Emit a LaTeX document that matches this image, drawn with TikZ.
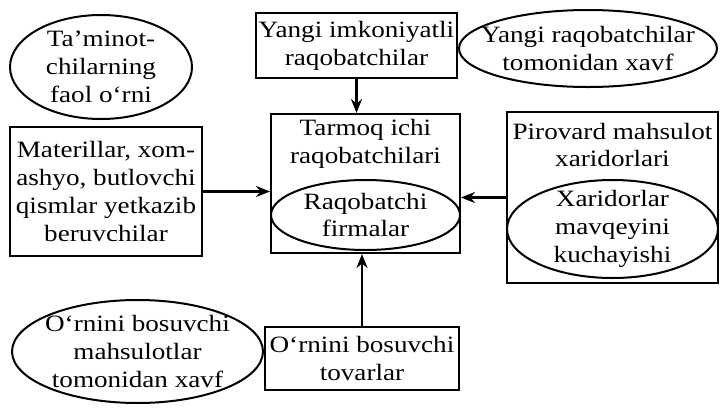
\documentclass[tikz,border=0pt]{standalone}
\usepackage{fontspec}
\setmainfont{Liberation Serif}[FakeStretch=1.16]
\usetikzlibrary{shapes.geometric,arrows.meta}

\begin{document}
\begin{tikzpicture}[x=0.5pt,y=-0.5pt,
  every node/.style={font=\fontsize{11.7}{13.9}\selectfont},
  quti/.style={draw,line width=1pt,inner sep=0pt,align=center},
  oval/.style={draw,ellipse,line width=1pt,inner sep=0pt},
  matn/.style={align=center,inner sep=0pt},
  strelka/.style={line width=1.2pt,-{Stealth[length=7pt,width=5.5pt]}}]
\useasboundingbox (0,0) rectangle (720,408);
% chap tomon
\node[oval,minimum width=91pt,minimum height=52pt,
  label={[matn]center:Ta’minot-\\chilarning\\faol o‘rni}] (taminot) at (101,67) {};
\node[quti,minimum width=96pt,minimum height=64.5pt] (materil) at (106,191.5)
  {Materillar, xom-\\ashyo, butlovchi\\qismlar yetkazib\\beruvchilar};
% yuqori
\node[quti,minimum width=100.5pt,minimum height=32.5pt] (yangi) at (356.5,45.5)
  {Yangi imkoniyatli\\raqobatchilar};
\node[oval,minimum width=129pt,minimum height=38.5pt,
  label={[matn]center:Yangi raqobatchilar\\tomonidan xavf}] (xavf) at (588,48.5) {};
% markaz
\node[quti,minimum width=94.5pt,minimum height=69.5pt] (markaz) at (365.5,183.5) {};
\node[matn] (markazmatn) at (365.5,144) {Tarmoq ichi\\raqobatchilari};
\node[oval,minimum width=94.5pt,minimum height=35pt,
  label={[matn]center:Raqobatchi\\firmalar}] (firma) at (365.5,215) {};
% o'ng tomon
\node[quti,minimum width=105.5pt,minimum height=85.5pt] (pirovard) at (612.5,197.5) {};
\node[matn] (pirovardmatn) at (612.5,145) {Pirovard mahsulot\\xaridorlari};
\node[oval,minimum width=105.5pt,minimum height=49pt,
  label={[matn]center:Xaridorlar\\mavqeyini\\kuchayishi}] (xaridor) at (612.5,229) {};
% pastki
\node[oval,minimum width=125.5pt,minimum height=51.5pt,
  label={[matn]center:O‘rnini bosuvchi\\mahsulotlar\\tomonidan xavf}] (urnini) at (137.5,351.5) {};
\node[quti,minimum width=97pt,minimum height=31.5pt] (tovar) at (362,358.5)
  {O‘rnini bosuvchi\\tovarlar};
% strelkalar
\draw[strelka] (yangi.south) -- (yangi.south |- markaz.north);
\draw[strelka] (materil.east) -- (materil.east -| markaz.west);
\draw[strelka] (pirovard.west) -- (pirovard.west -| markaz.east);
\draw[strelka] (tovar.north) -- (tovar.north |- markaz.south);
\end{tikzpicture}
\end{document}
